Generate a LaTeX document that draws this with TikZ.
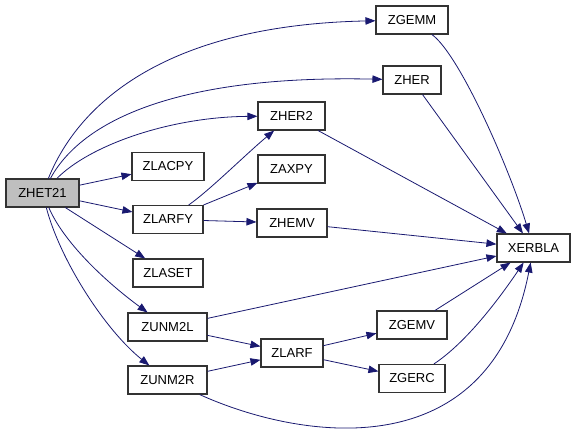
\documentclass[tikz,border=0pt]{standalone}
\usepackage{fontspec}
\setmainfont{Liberation Sans}
\usetikzlibrary{arrows.meta}
\definecolor{edgec}{HTML}{191970}
\definecolor{boxc}{HTML}{333333}
\tikzset{
  fn/.style={draw=boxc, line width=1.1pt, fill=white, rectangle, minimum height=28pt, inner sep=0pt, font=\fontsize{13}{13}\selectfont},
  root/.style={fn, fill=black!25},
  e/.style={draw=edgec, line width=0.8pt, -{Triangle[length=10pt,width=7.5pt]}}
}
\begin{document}
\begin{tikzpicture}[x=1pt,y=-1pt]
\useasboundingbox (0,0) rectangle (576,434);
\node[root, minimum width=73pt] (zhet21) at (42.5,193) {ZHET21};
\node[fn, minimum width=72pt] (zgemm) at (412,20) {ZGEMM};
\node[fn, minimum width=58pt] (zher) at (412,80) {ZHER};
\node[fn, minimum width=67pt] (zher2) at (291.5,116) {ZHER2};
\node[fn, minimum width=72pt] (zlacpy) at (168,166.5) {ZLACPY};
\node[fn, minimum width=67pt] (zaxpy) at (291.5,169) {ZAXPY};
\node[fn, minimum width=70pt] (zlarfy) at (168,219.5) {ZLARFY};
\node[fn, minimum width=70pt] (zhemv) at (292,223) {ZHEMV};
\node[fn, minimum width=73pt] (xerbla) at (533.5,248) {XERBLA};
\node[fn, minimum width=70pt] (zlaset) at (168,273) {ZLASET};
\node[fn, minimum width=79pt] (zunm2l) at (167.5,327) {ZUNM2L};
\node[fn, minimum width=79pt] (zunm2r) at (167.5,380) {ZUNM2R};
\node[fn, minimum width=62pt] (zlarf) at (292,353) {ZLARF};
\node[fn, minimum width=70pt] (zgemv) at (412,325) {ZGEMV};
\node[fn, minimum width=66pt] (zgerc) at (412,378.5) {ZGERC};

\draw[e] (zhet21) .. controls (80,100) and (170,25) .. (zgemm);
\draw[e] (zhet21) .. controls (85,115) and (190,75) .. (zher);
\draw[e] (zhet21) .. controls (90,145) and (170,117) .. (zher2);
\draw[e] (zhet21) -- (zlacpy);
\draw[e] (zhet21) -- (zlarfy);
\draw[e] (zhet21) -- (zlaset);
\draw[e] (zhet21) .. controls (65,245) and (110,285) .. (zunm2l);
\draw[e] (zhet21) .. controls (60,260) and (105,330) .. (zunm2r);
\draw[e] (zlarfy) .. controls (210,190) and (245,155) .. (zher2);
\draw[e] (zlarfy) -- (zaxpy);
\draw[e] (zlarfy) -- (zhemv);
\draw[e] (zgemm) .. controls (460,55) and (510,170) .. (xerbla);
\draw[e] (zher) -- (xerbla);
\draw[e] (zher2) -- (xerbla);
\draw[e] (zhemv) -- (xerbla);
\draw[e] (zunm2l) -- (xerbla);
\draw[e] (zunm2l) -- (zlarf);
\draw[e] (zunm2r) -- (zlarf);
\draw[e] (zlarf) -- (zgemv);
\draw[e] (zlarf) -- (zgerc);
\draw[e] (zgemv) -- (xerbla);
\draw[e] (zgerc) .. controls (470,340) and (505,290) .. (xerbla);
\draw[e] (zunm2r) .. controls (300,440) and (490,470) .. (xerbla);
\end{tikzpicture}
\end{document}
